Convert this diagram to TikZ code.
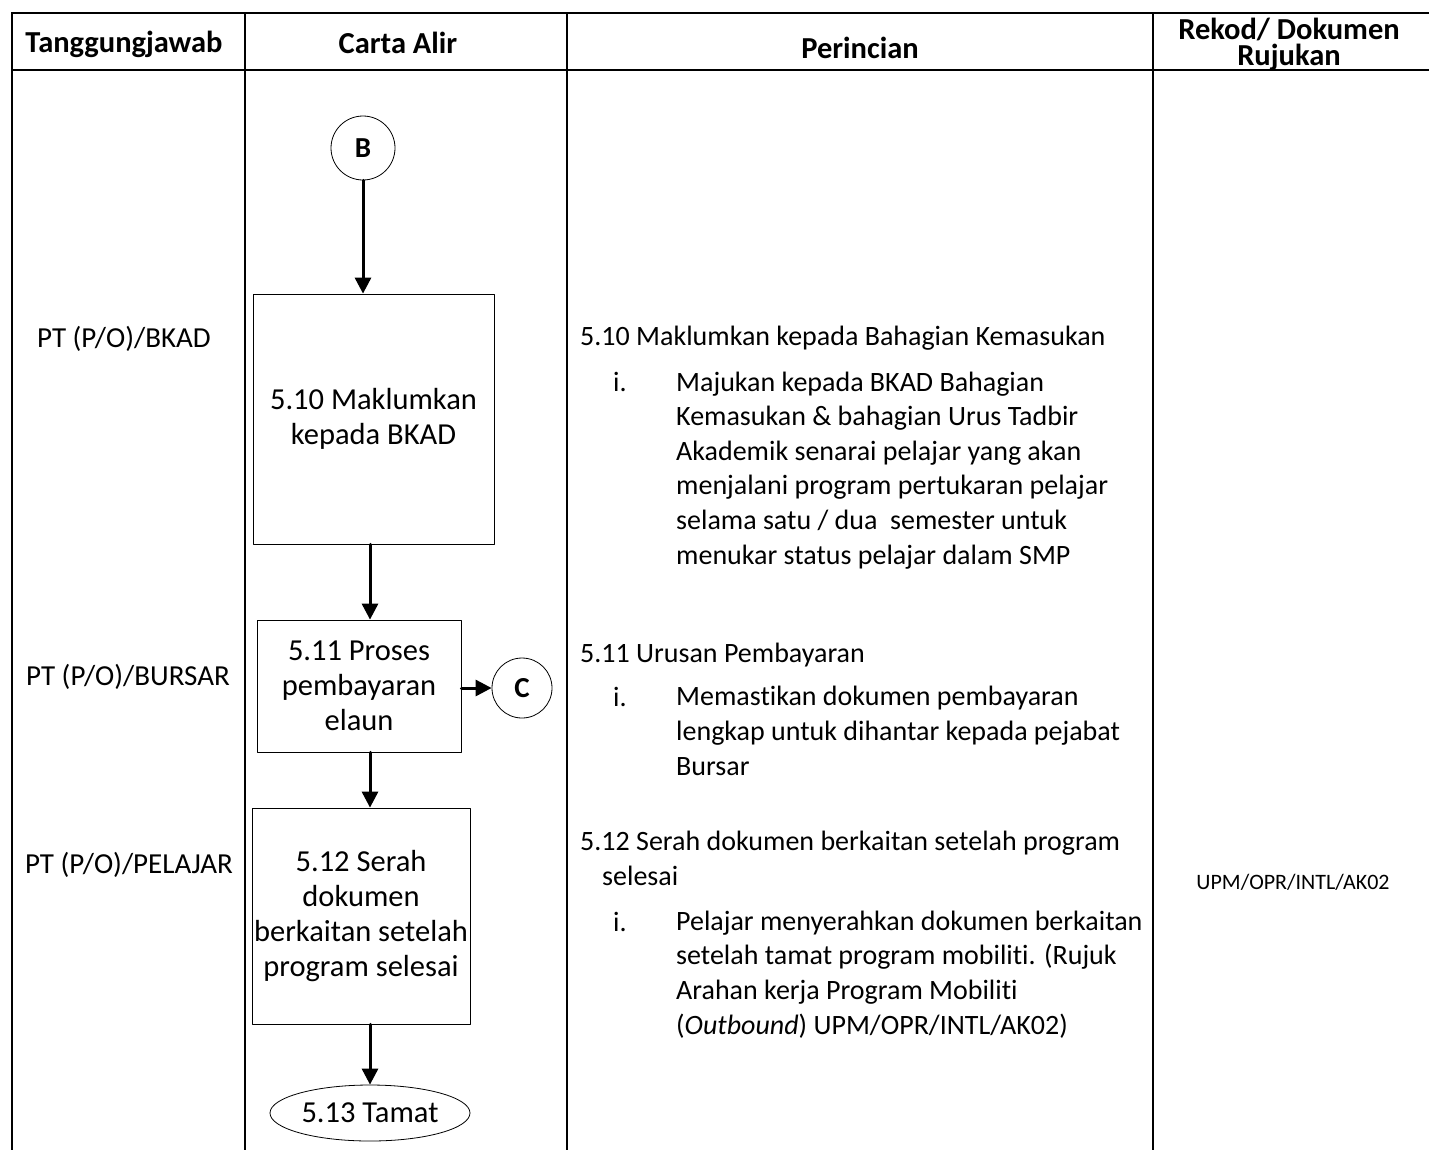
\documentclass[tikz,border=0pt]{standalone}
\usepackage{fontspec}
\setmainfont{Carlito}[Ligatures=NoCommon]
\usetikzlibrary{calc,positioning,shapes.geometric,arrows.meta}

\begin{document}
\begin{tikzpicture}[x=1pt,y=-1pt,line cap=round,line join=round,
  rule/.style={line width=2.6pt,line cap=rect},
  headtext/.style={font=\fontsize{30.5}{26}\selectfont\bfseries,align=center,inner sep=0pt},
  bodytext/.style={font=\fontsize{28}{34.6}\selectfont,align=left,inner sep=0pt,anchor=base west},
  roletext/.style={font=\fontsize{29}{34.6}\selectfont,inner sep=0pt},
  stepbox/.style={draw,line width=0.8pt,font=\fontsize{30.5}{34.8}\selectfont,align=center,inner sep=0pt},
  joint/.style={draw,circle,line width=0.8pt,minimum size=64pt,inner sep=0pt,font=\fontsize{29}{30}\selectfont\bfseries},
  flow/.style={line width=3pt,-{Triangle[length=16pt,width=16pt]}}]
  \useasboundingbox (0,0) rectangle (1429,1149);

  % table grid
  \draw[rule] (12,13) -- (1429,13);
  \draw[rule] (12,70) -- (1429,70);
  \foreach \colx in {12,245,567,1153}
    \draw[rule] (\colx,13) -- (\colx,1149);

  % header
  \node[headtext] (hResp) at (124,44) {Tanggungjawab};
  \node[headtext] (hFlow) at (398,43) {Carta Alir};
  \node[headtext] (hDesc) at (860,48) {Perincian};
  \node[headtext] (hRec) at (1289,44) {Rekod/ Dokumen\\Rujukan};

  % responsibility column
  \node[roletext] (rBkad) at (124,339) {PT (P/O)/BKAD};
  \node[roletext] (rBursar) at (128,677) {PT (P/O)/BURSAR};
  \node[roletext] (rPelajar) at (129,865) {PT (P/O)/PELAJAR};

  % flow chart
  \coordinate (axis) at (370,0);
  \node[joint] (B) at (363,148) {B};
  \node[stepbox,minimum width=241pt,minimum height=250pt] (p510) at (373.5,419)
    {5.10 Maklumkan\\kepada BKAD};
  \node[stepbox,minimum width=204pt,minimum height=132pt] (p511) at (359,686)
    {5.11 Proses\\pembayaran\\elaun};
  \node[joint,minimum size=60pt] (C) at (522,688) {C};
  \node[stepbox,minimum width=218pt,minimum height=216pt] (p512) at (361,916)
    {5.12 Serah\\dokumen\\berkaitan setelah\\program selesai};
  \node[stepbox,ellipse,minimum width=200pt,minimum height=56pt] (tamat) at (370,1113)
    {5.13 Tamat};

  \draw[flow] (B) -- (B |- p510.north);
  \draw[flow] (p510.south -| axis) -- (p511.north -| axis);
  \draw[flow] (p511.east |- C) -- (C);
  \draw[flow] (p511.south -| axis) -- (p512.north -| axis);
  \draw[flow] (p512.south -| axis) -- (tamat.north -| axis);

  % description column (multi-line nodes sit on their last baseline)
  \node[bodytext] (d510) at (580,345) {5.10 Maklumkan kepada Bahagian Kemasukan};
  \node[bodytext] (d510i) at (613,391) {i.};
  \node[bodytext] (d510t) at (676,564) {Majukan kepada BKAD Bahagian\\Kemasukan \& bahagian Urus Tadbir\\Akademik senarai pelajar yang akan\\menjalani program pertukaran pelajar\\selama satu / dua\ \ semester untuk\\menukar status pelajar dalam SMP};

  \node[bodytext] (d511) at (580,662) {5.11 Urusan Pembayaran};
  \node[bodytext] (d511i) at (613,706) {i.};
  \node[bodytext] (d511t) at (676,775) {Memastikan dokumen pembayaran\\lengkap untuk dihantar kepada pejabat\\Bursar};

  \node[bodytext] (d512) at (580,885) {5.12 Serah dokumen berkaitan setelah program\\\hspace*{22pt}selesai};
  \node[bodytext] (d512i) at (613,931) {i.};
  \node[bodytext] (d512t) at (676,1034) {Pelajar menyerahkan dokumen berkaitan\\setelah tamat program mobiliti. (Rujuk\\Arahan kerja Program Mobiliti\\(\textit{Outbound}) UPM/OPR/INTL/AK02)};

  % record column
  \node[font=\fontsize{22}{24}\selectfont,inner sep=0pt] (rec) at (1293,882) {UPM/OPR/INTL/AK02};
\end{tikzpicture}
\end{document}
